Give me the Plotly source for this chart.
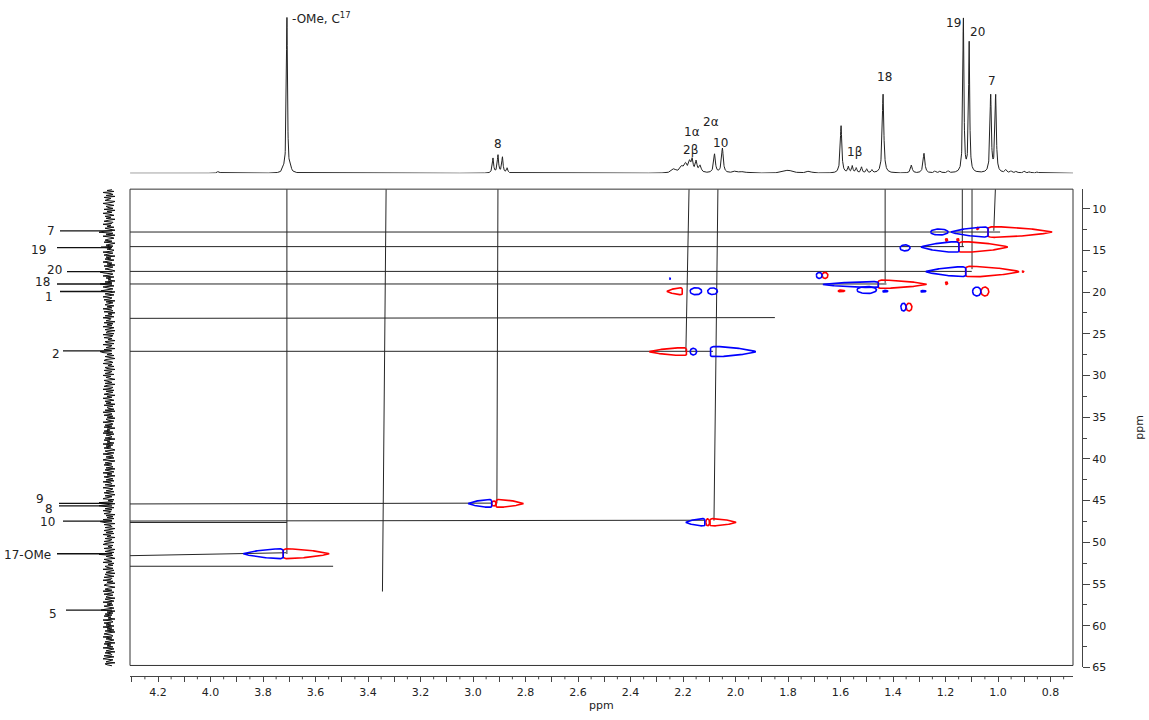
import numpy as np
import plotly.graph_objects as go

# ---------------- data ----------------
# 1H projection (top): peak positions (ppm), heights (relative, px-like units), half widths (ppm)
H1_PPM = [3.709, 3.695, 3.722, 3.97,
          2.924, 2.905, 2.888, 2.870,
          2.235, 2.205, 2.190, 2.175, 2.165, 2.150, 2.135,
          2.080, 2.050, 2.000, 1.970, 1.800, 1.720,
          1.598, 1.570, 1.555, 1.540, 1.520, 1.500, 1.480,
          1.438, 1.330, 1.282, 1.240, 1.220, 1.190,
          1.132, 1.110, 1.028, 1.009,
          0.970, 0.950, 0.930, 0.900, 0.880, 0.850]
H1_HEIGHT = [158, 5, 3, 2,
             15, 18, 16, 5,
             4, 6, 8, 10, 12, 11, 7,
             19, 25, 2, 1.5, 3, 2,
             48, 6, 7, 5, 6, 4, 3,
             80, 8, 20, 2, 2, 2,
             156, 132, 78, 78,
             3, 2, 2, 2, 1.5, 1.5]
H1_HWHM = [0.0025, 0.003, 0.003, 0.005,
           0.003, 0.003, 0.003, 0.003,
           0.010, 0.008, 0.006, 0.005, 0.004, 0.004, 0.005,
           0.004, 0.004, 0.010, 0.010, 0.020, 0.010,
           0.0035, 0.003, 0.003, 0.003, 0.003, 0.003, 0.003,
           0.0035, 0.004, 0.004, 0.004, 0.004, 0.004,
           0.0025, 0.0025, 0.003, 0.003,
           0.004, 0.004, 0.004, 0.004, 0.004, 0.004]

# 13C projection (left): hand-read noise deviations, sampled top to bottom
C13_NOISE = [3, -2, 5, -6, 1, 4, -3, 6, -5, 2, -1, -4, 6, 3, -6, 2, 5, -3, -1, 4,
             -5, 6, -2, 3, -6, 1, 5, -4, 2, -3, 6, -1, -5, 4, 3, -6, 2, -2, 5, -4,
             1, 6, -5, -2, 4, -3, 6, -6, 2, 5, -1, -4, 3, -5, 6, 1, -3, 4, -6, 2,
             -2, 5, 3, -6, 4, -1, -5, 6, -3, 2, -4, 5, 1, -6, 3, -2, 6, -5, 4, -1,
             -4, 3, 6, -2, -5, 4, 1, -6, 5, -3, 2, -1, 6, -4, 3, -5, 2, 5, -6, 1,
             4, -3, -5, 6, 2, -4, 5, -2, -6, 3, 1, -5, 6, -3, 4, -1, -4, 5, -2, 3,
             -6, 2, 4, -5, 6, -1, 3, -4, 5, -6, 2, 1, -3, 6, -5, 4, -2, 3, -6, 5,
             1, -4, 6, -2, -3, 5, -6, 4, 2, -5, 3, -1, 6, -4, -2, 5, -6, 3, 1, -3,
             6, -5, 2, 4, -6, 3, -2, 5, -4, 1, 6, -3, -5, 2, 4, -6, 3, -1, 5, -4,
             -2, 6, -5, 3, 1, -4, 5, -6, 2, -3, 4, 6, -5, -1, 3, -4, 6, -2, -5, 4,
             2, -6, 5, -3, 4, -1, -5, 6, -2, 3, -6, 1, 5, -4, 2, -3, 6, -5, 4, -2,
             -1, 5, -4, 6, -6, 2, 3, -5, 4, -2, 6, -3, -1, 5, -6, 2, 4, -4, 3, -5,
             6, -2, 1, -5, 4, -6, 5, -3, 2, 3, -4, 6, -5, 1, -2, 5, -6, 4, -3, 2,
             -5, 3, 6, -4, -1, 5, -6, 2, 4, -3, 5, -2, -6, 6, 1, -4, 3, -5, 2, 4,
             -3, 6, -4, 1, 5, -6, 3, -2, 6, -5, -1, 4, -3, 5, -6, 2, 3, -4, 6, -1,
             -6, 4, 2, -3, 5, -5, 1, 6, -4, 3, -2, -6, 5, -1, 4, -3, 6, -5, 2, -2,
             5, -4, 3, -6, 2, 1, -5, 6, -3, 4, -2, 5, -6, 3, -1, -4, 6, -5, 2, 3,
             -4, 6, -1, -5, 4, -3, 5, -6, 2, -2, 6, -4, 3, 1, -5, 5, -3, -6, 4, -1,
             3, -5, 6, -2, -4, 5, -6, 1, 4, -3, 2, 6, -5, -2, 3, -6, 5, -1, 4, -4,
             -2, 4, -6, 5, 1, -3, 6, -4, -1, 5, -5, 3, 2, -6, 4, -2, 6, -3, -5, 3,
             6, -1, -4, 3, -6, 5, 2, -5, 4, -2, -3, 6, -4, 1, 5, -6, 3, -2, 4, -5,
             1, 5, -3, -6, 6, -2, 4, -4, 3, -5, 2, -1, 6, -6, 3, 4, -5, 2, -3, 5,
             -6, 3, -2, 5, -4, 6, -1, -5, 2, 4, -6, 3, -3, 5, 1, -4, 6, -5, 2, -2,
             4, -6, 5, -1, -3, 6, -4, 2, 3, -5, 5, -2, -6, 4, 1, -3, 6, -4, -2, 3]
C13_START, C13_END = 7.7, 64.8
# 13C signals in the projection (ppm) and their depth
C13_PEAK_PPM = [12.8, 14.6, 17.55, 19.0, 19.9, 27.1, 45.3, 45.6, 47.5, 51.4, 58.1]
C13_PEAK_DEPTH = [-10, -8, -9, -9, -8, -9, -10, -10, -9, -10, -8]

# HSQC cross-peak lobes: start (blunt) ppm, end (tip) ppm, 13C ppm, half-height ppm, kind, phase
LOBE_X0 = [1.038, 1.038, 1.257, 1.082, 1.149, 1.149, 1.373, 1.200, 1.157, 1.123, 1.123, 0.908,
           1.456, 1.456, 1.537, 1.610, 1.440, 1.295, 1.200, 1.692, 1.670, 1.097, 1.065,
           2.203, 2.173, 2.106, 2.252, 1.370, 1.350, 2.187, 2.173, 2.095,
           2.929, 2.912, 2.929, 2.117, 2.113, 2.097, 3.723, 3.723]
LOBE_X1 = [0.794, 1.179, 1.190, 1.074, 0.963, 1.293, 1.335, 1.192, 1.149, 0.920, 1.275, 0.902,
           1.272, 1.667, 1.463, 1.585, 1.420, 1.275, 1.192, 1.670, 1.648, 1.065, 1.035,
           2.261, 2.129, 2.069, 2.248, 1.350, 1.328, 2.328, 2.148, 1.923,
           3.018, 2.808, 2.912, 2.189, 2.099, 1.998, 3.875, 3.548]
LOBE_Y = [12.80, 12.80, 12.80, 12.37, 14.60, 14.60, 14.70, 13.75, 13.75, 17.55, 17.55, 17.55,
          19.06, 19.10, 19.75, 19.86, 19.90, 19.90, 18.94, 18.00, 18.00, 19.93, 19.93,
          19.90, 19.90, 19.90, 18.39, 21.80, 21.80, 27.14, 27.14, 27.14,
          45.34, 45.34, 45.34, 47.60, 47.60, 47.60, 51.37, 51.37]
LOBE_H = [0.65, 0.60, 0.36, 0.12, 0.65, 0.65, 0.36, 0.15, 0.15, 0.65, 0.60, 0.08,
          0.51, 0.36, 0.42, 0.10, 0.10, 0.10, 0.15, 0.36, 0.36, 0.53, 0.53,
          0.42, 0.42, 0.40, 0.06, 0.47, 0.47, 0.48, 0.40, 0.63,
          0.48, 0.48, 0.30, 0.45, 0.42, 0.45, 0.60, 0.60]
LOBE_KIND = ['tear', 'tear', 'oval', 'oval', 'tear', 'tear', 'oval', 'oval', 'oval', 'tear', 'tear', 'oval',
             'tear', 'tear', 'oval', 'oval', 'oval', 'oval', 'oval', 'oval', 'oval', 'oval', 'oval',
             'tear', 'oval', 'oval', 'oval', 'oval', 'oval', 'tear', 'oval', 'tear',
             'tear', 'tear', 'oval', 'tear', 'oval', 'tear', 'tear', 'tear']
LOBE_PHASE = ['+', '-', '-', '+', '+', '-', '-', '+', '+', '+', '-', '+',
              '+', '-', '-', '+', '-', '-', '+', '-', '+', '-', '+',
              '+', '-', '-', '-', '-', '+', '+', '-', '-',
              '-', '+', '+', '-', '+', '+', '-', '+']

# assignment guide lines (1H ppm, 13C ppm) start -> end
GUIDE_X0 = [3.709, 3.331, 2.905, 2.177, 2.067, 1.430, 1.136, 1.099, 1.010,
            4.307, 4.307, 4.307, 4.307, 4.307, 4.307, 4.307, 4.307, 4.307, 4.307, 4.307]
GUIDE_Y0 = [7.66, 7.66, 7.66, 7.66, 7.66, 7.66, 7.66, 7.66, 7.66,
            12.80, 14.55, 17.52, 19.03, 23.15, 27.10, 45.40, 47.45, 47.62, 51.60, 52.87]
GUIDE_X1 = [3.709, 3.345, 2.909, 2.189, 2.082, 1.430, 1.136, 1.099, 1.016,
            0.992, 1.130, 1.100, 1.425, 1.850, 2.086, 2.931, 2.116, 3.709, 3.712, 3.533]
GUIDE_Y1 = [51.40, 55.90, 45.34, 27.14, 47.40, 18.90, 14.55, 17.25, 12.65,
            12.80, 14.55, 17.52, 19.03, 23.06, 27.10, 45.30, 47.35, 47.62, 51.25, 52.87]

# 1H labels
TOP_LABELS = ['-OMe, C<sup>17</sup>', '8', '1\u03b1', '2\u03b2', '2\u03b1', '10', '1\u03b2', '18', '19', '20', '7']
TOP_LABEL_PPM = [3.697, 2.905, 2.167, 2.171, 2.094, 2.057, 1.546, 1.434, 1.168, 1.080, 1.023]
TOP_LABEL_LEVEL = [157, 30, 42, 24, 52, 31, 22, 97, 152, 143, 93]

# 13C labels
LEFT_LABELS = ['7', '19', '20', '18', '1', '2', '9', '8', '10', '17-OMe', '5']
LEFT_LINE_PPM = [12.67, 14.67, 17.55, 19.03, 19.93, 27.05, 45.34, 45.63, 47.45, 51.37, 58.14]
LEFT_TEXT_PPM = [12.67, 15.00, 17.35, 18.85, 20.60, 27.45, 44.75, 46.05, 47.60, 51.55, 58.60]

X_TICK_LABELS = [4.2, 4.0, 3.8, 3.6, 3.4, 3.2, 3.0, 2.8, 2.6, 2.4, 2.2, 2.0, 1.8, 1.6, 1.4, 1.2, 1.0, 0.8]
Y_TICKS = [10, 15, 20, 25, 30, 35, 40, 45, 50, 55, 60, 65]

# ---------------- layout helpers ----------------
W, H = 1149, 720
def fx(p):
    return p / W
def fy(p):
    return 1 - p / H

FONT = "DejaVu Sans"
TXT = "#222222"
AXC = "#444444"
X_RANGE = [4.3067, 0.7143]
Y_RANGE = [65, 7.66]
X_AXIS_PX = 683

# left-label text right edges / line starts (pixels)
LEFT_TEXT_RIGHT = [57, 48, 64, 52, 55, 62, 46, 55, 57, 53, 59]
LEFT_LINE_START = [60, 57, 67, 57, 60, 63, 59, 59, 63, 57, 66]
LEFT_LINE_END = 112

fig = go.Figure()

# top 1H spectrum
grid = np.arange(X_RANGE[1], X_RANGE[0], 0.0005)
spec = np.zeros_like(grid)
for p, h, w in zip(H1_PPM, H1_HEIGHT, H1_HWHM):
    spec += h / (1 + ((grid - p) / w) ** 2)
fig.add_trace(go.Scatter(x=grid, y=spec, mode='lines', xaxis='x2', yaxis='y2',
                         line=dict(color='#222222', width=1), hoverinfo='skip', showlegend=False))

# left 13C trace
c13_y = np.linspace(C13_START, C13_END, len(C13_NOISE))
c13_x = np.array(C13_NOISE, dtype=float)
for p, d in zip(C13_PEAK_PPM, C13_PEAK_DEPTH):
    i = int(np.argmin(np.abs(c13_y - p)))
    c13_x[i] = d
fig.add_trace(go.Scatter(x=c13_x, y=c13_y, mode='lines', xaxis='x3', yaxis='y3',
                         line=dict(color='#111111', width=1), hoverinfo='skip', showlegend=False))

# guide lines
gx, gy = [], []
for a, b, c, d in zip(GUIDE_X0, GUIDE_Y0, GUIDE_X1, GUIDE_Y1):
    gx += [a, c, None]
    gy += [b, d, None]
fig.add_trace(go.Scatter(x=gx, y=gy, mode='lines', xaxis='x', yaxis='y',
                         line=dict(color='#262626', width=1), hoverinfo='skip', showlegend=False))

# contour lobes
def lobe_path(x0, x1, yc, h, kind):
    if kind == 'oval':
        t = np.linspace(0, 2 * np.pi, 48)
        cx, rx = (x0 + x1) / 2, abs(x1 - x0) / 2
        return cx + rx * np.cos(t), yc + h * np.sin(t)
    t = np.linspace(0, 1, 60)
    w = h * (1 - t ** 1.7) ** 0.8 * (0.75 + 0.25 * np.sqrt(np.minimum(t / 0.08, 1)))
    xs = x0 + (x1 - x0) * t
    px = np.concatenate([xs, xs[::-1], [xs[0]]])
    py = np.concatenate([yc - w, (yc + w)[::-1], [yc - w[0]]])
    return px, py

for phase, color in (('+', '#ff0000'), ('-', '#0000ff')):
    lx, ly = [], []
    for x0, x1, yc, h, k, ph in zip(LOBE_X0, LOBE_X1, LOBE_Y, LOBE_H, LOBE_KIND, LOBE_PHASE):
        if ph != phase:
            continue
        px, py = lobe_path(x0, x1, yc, h, k)
        lx += list(px) + [None]
        ly += list(py) + [None]
    fig.add_trace(go.Scatter(x=lx, y=ly, mode='lines', xaxis='x', yaxis='y',
                             line=dict(color=color, width=1.6), hoverinfo='skip', showlegend=False))

shapes = [dict(type='rect', xref='paper', yref='paper', x0=fx(130), x1=fx(1073), y0=fy(672), y1=fy(191),
               line=dict(color='#333333', width=1), layer='above')]
for yl, xs in zip(LEFT_LINE_PPM, LEFT_LINE_START):
    shapes.append(dict(type='line', xref='paper', yref='y', x0=fx(xs), x1=fx(LEFT_LINE_END), y0=yl, y1=yl,
                       line=dict(color='#111111', width=1.3)))
# short 0.05 ppm ticks on the x axis
for v in np.arange(4.25, 0.74, -0.1):
    shapes.append(dict(type='line', xref='x', yref='paper', x0=v, x1=v,
                       y0=fy(X_AXIS_PX), y1=fy(X_AXIS_PX + 3), line=dict(color=AXC, width=1)))

annotations = []
for t, p, lv in zip(TOP_LABELS, TOP_LABEL_PPM, TOP_LABEL_LEVEL):
    annotations.append(dict(text=t, x=p, y=lv, xref='x2', yref='y2', showarrow=False,
                            xanchor='left' if t.startswith('-') else 'center', yanchor='middle',
                            font=dict(family=FONT, size=12, color=TXT)))
for t, p, xr in zip(LEFT_LABELS, LEFT_TEXT_PPM, LEFT_TEXT_RIGHT):
    annotations.append(dict(text=t, x=fx(xr), y=p, xref='paper', yref='y', showarrow=False,
                            xanchor='right', yanchor='middle',
                            font=dict(family=FONT, size=12, color=TXT)))
annotations.append(dict(text='ppm', x=fx(601), y=fy(712), xref='paper', yref='paper', showarrow=False,
                        xanchor='center', yanchor='middle', font=dict(family=FONT, size=11, color=TXT)))
annotations.append(dict(text='ppm', x=fx(1140), y=fy(432), xref='paper', yref='paper', showarrow=False,
                        textangle=-90, xanchor='center', yanchor='middle',
                        font=dict(family=FONT, size=11, color=TXT)))

fig.update_layout(
    width=W, height=H, margin=dict(l=0, r=0, t=0, b=0),
    paper_bgcolor='white', plot_bgcolor='white', showlegend=False,
    font=dict(family=FONT, size=11, color=TXT),
    xaxis=dict(domain=[fx(130), fx(1073)], range=X_RANGE, anchor='free', position=fy(X_AXIS_PX),
               showline=True, linecolor=AXC, linewidth=1, ticks='outside', ticklen=5,
               tickcolor=AXC, tickmode='array', tickvals=X_TICK_LABELS,
               ticktext=['%.1f' % v for v in X_TICK_LABELS],
               minor=dict(dtick=0.1, tick0=0, ticks='outside', ticklen=5, tickcolor=AXC, showgrid=False),
               showgrid=False, zeroline=False, tickfont=dict(family=FONT, size=11, color=TXT)),
    yaxis=dict(domain=[fy(674), fy(191)], range=Y_RANGE, anchor='free', position=fx(1082), side='right',
               showline=True, linecolor=AXC, linewidth=1, ticks='outside', ticklen=7,
               tickcolor=AXC, tickmode='array', tickvals=Y_TICKS,
               minor=dict(dtick=2.5, tick0=0, ticks='outside', ticklen=4, tickcolor=AXC, showgrid=False),
               showgrid=False, zeroline=False, tickfont=dict(family=FONT, size=11, color=TXT)),
    xaxis2=dict(domain=[fx(130), fx(1073)], range=X_RANGE, anchor='y2', visible=False),
    yaxis2=dict(domain=[fy(175), fy(5)], range=[0, 170], anchor='x2', visible=False),
    xaxis3=dict(domain=[fx(90), fx(125)], range=[-19, 16], anchor='y3', visible=False),
    yaxis3=dict(domain=[fy(674), fy(191)], range=Y_RANGE, anchor='x3', visible=False),
    shapes=shapes, annotations=annotations,
)

fig.write_html("out.html", config={'displayModeBar': False},
               post_script="document.body.style.margin='0px';")
